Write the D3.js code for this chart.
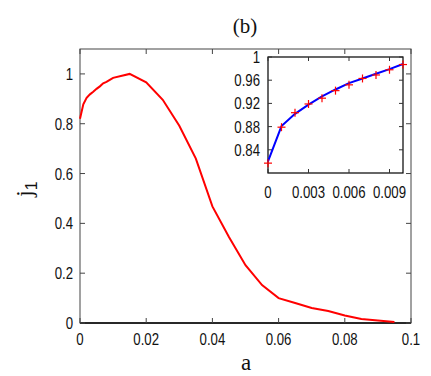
<!DOCTYPE html>
<html>
<head>
<meta charset="utf-8">
<script src="https://cdn.jsdelivr.net/npm/d3@7"></script>
<style>
 body { margin:0; background:#fff; }
 text { font-family: "Liberation Sans", Arial, sans-serif; fill:#111; }
 .serif { font-family: "Liberation Serif", "Times New Roman", serif; }
</style>
</head>
<body>
<div id="chart"></div>
<script>
// main curve j1(a)
var aVals  = [0,0.001,0.002,0.003,0.004,0.005,0.006,0.007,0.008,0.009,0.01,0.015,0.02,0.025,0.03,0.035,0.04,0.045,0.05,0.055,0.06,0.065,0.07,0.075,0.08,0.085,0.09,0.095];
var j1Vals = [0.82,0.878,0.904,0.918,0.928,0.94,0.95,0.962,0.968,0.976,0.984,1.0,0.966,0.896,0.792,0.66,0.468,0.345,0.232,0.152,0.1,0.08,0.06,0.048,0.03,0.016,0.01,0.004];
var xTicks = [0,0.02,0.04,0.06,0.08,0.1];
var yTicks = [0,0.2,0.4,0.6,0.8,1];

// inset: data points (red crosses) and fit (blue line)
var insetA   = [0,0.001,0.002,0.003,0.004,0.005,0.006,0.007,0.008,0.009,0.01];
var insetPts = [0.817,0.879,0.904,0.919,0.929,0.942,0.952,0.963,0.969,0.978,0.987];
var insetFit = [0.82,0.881,0.902,0.918,0.932,0.944,0.955,0.963,0.971,0.979,0.988];
var insetXTicks = [0,0.003,0.006,0.009];
var insetYTicks = [0.84,0.88,0.92,0.96,1];

var W = 431, H = 376;
var svg = d3.select('#chart').append('svg').attr('width', W).attr('height', H);

function label(g, x, y, txt, anchor, size) {
  g.append('g').attr('transform', 'translate(' + x + ',' + y + ')')
   .append('text').attr('transform', 'scale(0.8,1)')
   .attr('text-anchor', anchor).style('font-size', size + 'px').text(txt);
}

// ---- main plot ----
var x = d3.scaleLinear().domain([0, 0.1]).range([80, 411]);
var y = d3.scaleLinear().domain([0, 1.1]).range([323, 49]);

svg.append('rect').attr('x', 80).attr('y', 49).attr('width', 331).attr('height', 274)
   .attr('fill', 'none').attr('stroke', '#444').attr('stroke-width', 1);
svg.append('line').attr('x1', 80).attr('x2', 411).attr('y1', 323).attr('y2', 323)
   .attr('stroke', '#000').attr('stroke-width', 1.5);

var tk = svg.append('g').attr('stroke', '#444').attr('stroke-width', 1);
xTicks.forEach(function(t) {
  tk.append('line').attr('x1', x(t)).attr('x2', x(t)).attr('y1', 323).attr('y2', 318);
  tk.append('line').attr('x1', x(t)).attr('x2', x(t)).attr('y1', 49).attr('y2', 54);
  label(svg, x(t), 345, d3.format('')(t), 'middle', 16.5);
});
yTicks.forEach(function(t) {
  tk.append('line').attr('x1', 80).attr('x2', 85).attr('y1', y(t)).attr('y2', y(t));
  tk.append('line').attr('x1', 411).attr('x2', 406).attr('y1', y(t)).attr('y2', y(t));
  label(svg, 73, y(t) + 6, d3.format('')(t), 'end', 16.5);
});

var line = d3.line().x(function(d){ return x(d[0]); }).y(function(d){ return y(d[1]); });
svg.append('path').datum(d3.zip(aVals, j1Vals)).attr('d', line)
   .attr('fill', 'none').attr('stroke', '#ff0000').attr('stroke-width', 2);

// title and axis labels
svg.append('text').attr('class', 'serif').attr('x', 245).attr('y', 33)
   .attr('text-anchor', 'middle').style('font-size', '21px').text('(b)');
svg.append('text').attr('class', 'serif').attr('x', 246).attr('y', 370)
   .attr('text-anchor', 'middle').style('font-size', '23px').text('a');
var yl = svg.append('text').attr('class', 'serif')
   .attr('transform', 'translate(32,189) rotate(-90)')
   .attr('text-anchor', 'middle').style('font-size', '23px');
yl.append('tspan').text('j');
yl.append('tspan').attr('dy', 5).style('font-size', '16px').style('font-family', 'Liberation Sans, Arial, sans-serif').text('1');

// ---- inset ----
var ix = d3.scaleLinear().domain([0, 0.01]).range([268, 403]);
var iy = d3.scaleLinear().domain([0.8, 1.0]).range([173, 57]);

svg.append('rect').attr('x', 268).attr('y', 57).attr('width', 135).attr('height', 116)
   .attr('fill', '#fff').attr('stroke', '#000').attr('stroke-width', 1.2);

var itk = svg.append('g').attr('stroke', '#333').attr('stroke-width', 1);
insetXTicks.forEach(function(t) {
  itk.append('line').attr('x1', ix(t)).attr('x2', ix(t)).attr('y1', 173).attr('y2', 169);
  itk.append('line').attr('x1', ix(t)).attr('x2', ix(t)).attr('y1', 57).attr('y2', 61);
  label(svg, ix(t), 198, d3.format('')(t), 'middle', 16.5);
});
insetYTicks.forEach(function(t) {
  itk.append('line').attr('x1', 268).attr('x2', 272).attr('y1', iy(t)).attr('y2', iy(t));
  itk.append('line').attr('x1', 403).attr('x2', 399).attr('y1', iy(t)).attr('y2', iy(t));
  label(svg, 260, iy(t) + 6, d3.format('')(t), 'end', 16.5);
});

var iline = d3.line().x(function(d){ return ix(d[0]); }).y(function(d){ return iy(d[1]); });
svg.append('path').datum(d3.zip(insetA, insetFit)).attr('d', iline)
   .attr('fill', 'none').attr('stroke', '#0000ff').attr('stroke-width', 2);

var crosses = svg.append('g').attr('stroke', '#ff0000').attr('stroke-width', 1.2);
d3.zip(insetA, insetPts).forEach(function(d) {
  var cx = ix(d[0]), cy = iy(d[1]);
  crosses.append('line').attr('x1', cx - 4).attr('x2', cx + 4).attr('y1', cy).attr('y2', cy);
  crosses.append('line').attr('x1', cx).attr('x2', cx).attr('y1', cy - 4).attr('y2', cy + 4);
});
</script>
</body>
</html>
